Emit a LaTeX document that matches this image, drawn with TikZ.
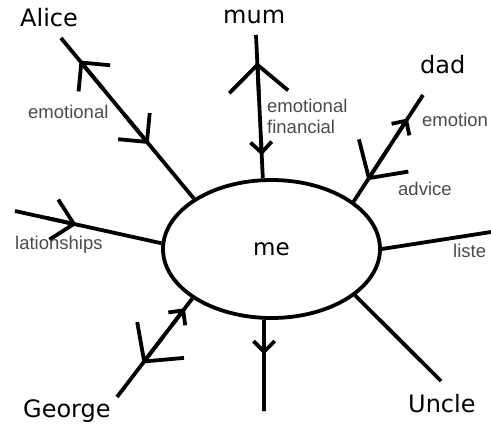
\documentclass[tikz,border=0pt]{standalone}
\usepackage{fontspec}
\setmainfont{Liberation Sans}
\newfontfamily\namefont{DejaVu Sans}
\usetikzlibrary{arrows.meta,calc,shapes.geometric}
\definecolor{labelgray}{RGB}{75,75,75}
\tikzset{
  spoke/.style={line width=3.8pt},
  bigbarb/.style={line width=3.8pt, -{Straight Barb[angle=95:40pt]}},
  midbarb/.style={line width=3.8pt, -{Straight Barb[angle=90:29pt]}},
  smallbarb/.style={line width=3.8pt, -{Straight Barb[angle=90:15pt]}},
  person/.style={font=\namefont\fontsize{24}{27}\selectfont, anchor=base west, inner sep=0pt},
  tag/.style={font=\fontsize{18.5}{21}\selectfont, text=labelgray, anchor=base west, inner sep=0pt, align=left}
}
\begin{document}
\begin{tikzpicture}[x=1pt,y=-1pt]
  \useasboundingbox (0,0) rectangle (491,426);
  \node[draw, ellipse, line width=3.8pt, minimum width=217pt, minimum height=138pt, inner sep=0pt,
        font=\namefont\fontsize{23}{26}\selectfont] (me) at (271.5,249) {me};

  % the people
  \node[person] (alice) at (20,26) {Alice};
  \node[person] (mum) at (223,23) {mum};
  \node[person] (dad) at (420,73) {dad};
  \node[person] (uncle) at (408,412) {Uncle};
  \node[person] (george) at (23,417) {George};

  % free ends of the spokes
  \coordinate (alice end) at (61,38);
  \coordinate (mum end) at (256,35);
  \coordinate (dad end) at (423,95);
  \coordinate (left end) at (15,211);
  \coordinate (right end) at (491,232);
  \coordinate (george end) at (117,397);
  \coordinate (down end) at (264,411);
  \coordinate (uncle end) at (441,381);

  % spokes
  \draw[spoke] (alice end) -- (me.147);
  \draw[spoke] (mum end) -- (me.97);
  \draw[spoke] (dad end) -- (me.30);
  \draw[spoke] (left end) -- (me.177);
  \draw[spoke] (right end) -- (me.0);
  \draw[spoke] (george end) -- (me.212);
  \draw[spoke] (me.264) -- (down end);
  \draw[spoke] (me.331) -- (uncle end);

  % arrow heads along the spokes
  \draw[midbarb] ($(alice end)!0.32!(me.147)$) -- ($(alice end)!0.14!(me.147)$);
  \draw[midbarb] ($(alice end)!0.48!(me.147)$) -- ($(alice end)!0.66!(me.147)$);
  \draw[bigbarb] ($(mum end)!0.45!(me.97)$) -- ($(mum end)!0.19!(me.97)$);
  \draw[smallbarb] ($(mum end)!0.7!(me.97)$) -- ($(mum end)!0.84!(me.97)$);
  \draw[smallbarb] ($(dad end)!0.4!(me.30)$) -- ($(dad end)!0.22!(me.30)$);
  \draw[bigbarb] ($(dad end)!0.5!(me.30)$) -- ($(dad end)!0.8!(me.30)$);
  \draw[midbarb] ($(left end)!0.22!(me.177)$) -- ($(left end)!0.42!(me.177)$);
  \draw[smallbarb] ($(george end)!0.72!(me.212)$) -- ($(george end)!0.9!(me.212)$);
  \draw[bigbarb] ($(george end)!0.62!(me.212)$) -- ($(george end)!0.34!(me.212)$);
  \draw[smallbarb] ($(me.264)!0.12!(down end)$) -- ($(me.264)!0.38!(down end)$);

  % what flows along them
  \node[tag] (alice tag) at (28,118) {emotional};
  \node[tag] (mum tag) at (267,133) {emotional\\financial};
  \node[tag] (dad tag) at (422,126) {emotion};
  \node[tag] (advice tag) at (398,195) {advice};
  \node[tag] (left tag) at (15,249) {lationships};
  \node[tag] (right tag) at (453,257) {liste};
\end{tikzpicture}
\end{document}
